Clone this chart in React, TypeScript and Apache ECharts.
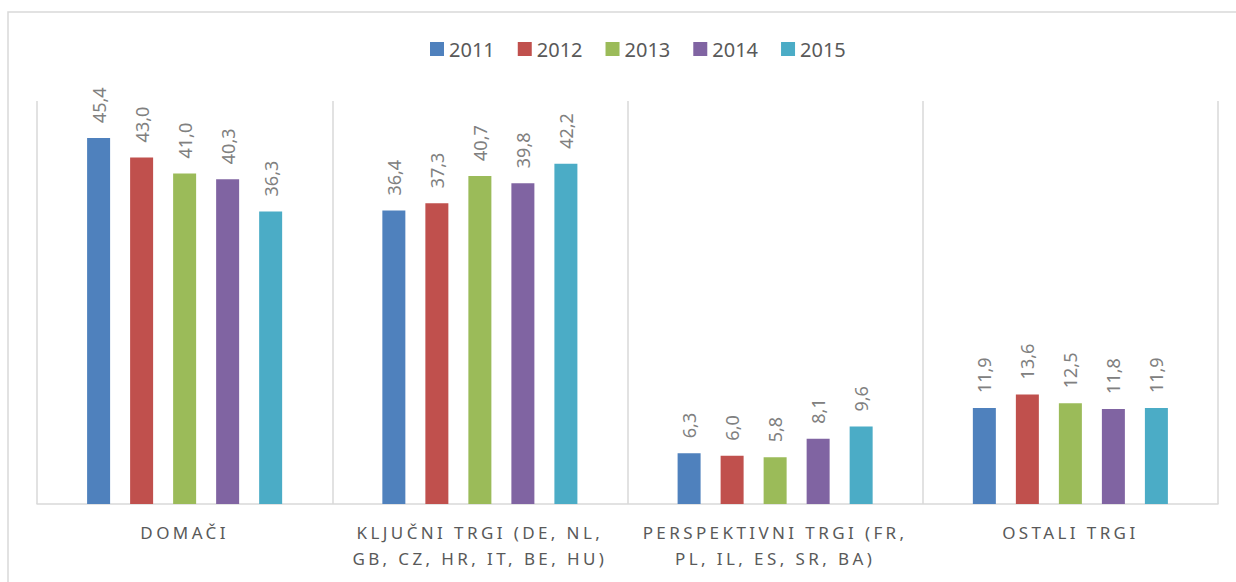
import React, { useEffect, useRef } from "react";
import * as echarts from "echarts";

const categories = [
  "DOMAČI",
  "KLJUČNI TRGI (DE, NL,\nGB, CZ, HR, IT, BE, HU)",
  "PERSPEKTIVNI TRGI (FR,\nPL, IL, ES, SR, BA)",
  "OSTALI TRGI",
];
const years = ["2011", "2012", "2013", "2014", "2015"];
const v2011 = [45.4, 36.4, 6.3, 11.9];
const v2012 = [43.0, 37.3, 6.0, 13.6];
const v2013 = [41.0, 40.7, 5.8, 12.5];
const v2014 = [40.3, 39.8, 8.1, 11.8];
const v2015 = [36.3, 42.2, 9.6, 11.9];
const seriesValues = [v2011, v2012, v2013, v2014, v2015];
const colors = ["#4F81BD", "#C0504D", "#9BBB59", "#8064A2", "#4BACC6"];

export default function App() {
  const ref = useRef<HTMLDivElement>(null);
  useEffect(() => {
    if (!ref.current) return;
    const chart = echarts.init(ref.current, null, { renderer: "svg" });
    chart.setOption({
      animation: false,
      color: colors,
      graphic: [
        {
          type: "rect",
          shape: { x: 8, y: 12, width: 1260, height: 620 },
          style: { fill: "none", stroke: "#d9d9d9", lineWidth: 1.5 },
          silent: true,
        },
      ],
      legend: {
        top: 34,
        left: 425,
        itemWidth: 14,
        itemHeight: 14,
        itemGap: 23,
        icon: "rect",
        textStyle: { fontSize: 20, color: "#595959", fontFamily: "Noto Sans" },
        data: years,
      },
      grid: { left: 37, right: 18, top: 101, bottom: 78 },
      xAxis: {
        type: "category",
        data: categories,
        axisLine: { lineStyle: { color: "#d9d9d9", width: 1.5 } },
        axisTick: { show: false },
        splitLine: { show: true, lineStyle: { color: "#d9d9d9", width: 1.5 } },
        axisLabel: {
          fontSize: 17,
          color: "#595959",
          fontFamily: "Noto Sans",
          lineHeight: 26,
          margin: 15,
          interval: 0,
        },
      },
      yAxis: {
        type: "value",
        min: 0,
        max: 50,
        show: false,
        splitLine: { show: false },
      },
      series: seriesValues.map((vals, i) => ({
        name: years[i],
        type: "bar",
        data: vals,
        barWidth: 23,
        barGap: "87%",
        label: {
          show: true,
          position: "top",
          rotate: 90,
          align: "left",
          verticalAlign: "middle",
          distance: 15,
          fontSize: 18,
          color: "#808080",
          fontFamily: "Noto Sans",
          formatter: (p: any) => p.value.toFixed(1).replace(".", ","),
        },
      })),
    });
    const lines = new Set<string>();
    categories.forEach((c) => c.split("\n").forEach((l) => lines.add(l)));
    ref.current.querySelectorAll("text").forEach((t) => {
      if (lines.has((t.textContent || "").trim())) {
        t.setAttribute("letter-spacing", "3.4");
      }
    });
    return () => chart.dispose();
  }, []);
  return (
    <div
      ref={ref}
      style={{ position: "absolute", left: 0, top: 0, width: 1236, height: 582 }}
    />
  );
}
